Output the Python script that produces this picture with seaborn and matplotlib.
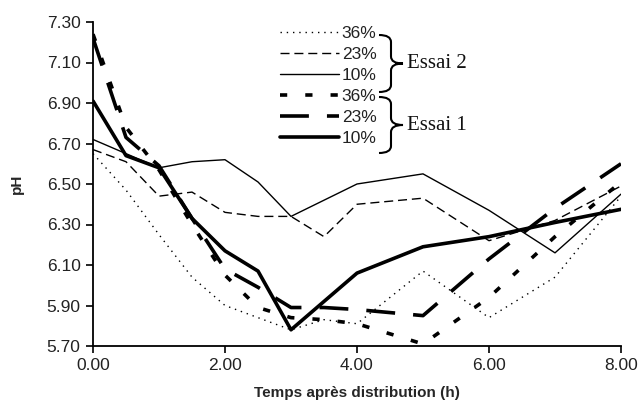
import numpy as np
import pandas as pd
import matplotlib
matplotlib.use("Agg")
import matplotlib.pyplot as plt
import seaborn as sns
from matplotlib.path import Path
from matplotlib.patches import PathPatch
import matplotlib.transforms as mtransforms

# temps après distribution (h)
temps = [0, 0.5, 1, 1.5, 2, 2.5, 3, 3.5, 4, 5, 6, 7, 8]

# Essai 2
e2_36 = [6.65, 6.47, 6.25, 6.04, 5.90, 5.84, 5.78, 5.83, 5.81, 6.07, 5.84, 6.04, 6.44]
e2_23 = [6.67, 6.61, 6.44, 6.46, 6.36, 6.34, 6.34, 6.24, 6.40, 6.43, 6.22, 6.32, 6.49]
e2_10 = [6.72, 6.65, 6.58, 6.61, 6.62, 6.51, 6.34, 6.42, 6.50, 6.55, 6.37, 6.16, 6.45]
# Essai 1
e1_36 = [7.24, 6.78, 6.57, 6.30, 6.05, 5.89, 5.84, 5.83, 5.81, 5.71, 5.94, 6.24, 6.51]
e1_23 = [7.22, 6.73, 6.59, 6.33, 6.08, 5.99, 5.89, 5.89, 5.88, 5.85, 6.13, 6.38, 6.60]
e1_10 = [6.91, 6.64, 6.58, 6.33, 6.17, 6.07, 5.78, 5.92, 6.06, 6.19, 6.24, 6.31, 6.375]

labels = ["36%", "23%", "10%", "36%", "23%", "10%"]
y_ticks = [5.70, 5.90, 6.10, 6.30, 6.50, 6.70, 6.90, 7.10, 7.30]
x_ticks = [0, 2, 4, 6, 8]

sns.set_theme(style="white")
plt.rcParams["font.family"] = ["Liberation Sans", "DejaVu Sans"]

W, H = 641, 403
fig = plt.figure(figsize=(W / 100, H / 100), dpi=100)
ax = fig.add_axes([93 / W, 1 - 346 / H, (621 - 93) / W, (346 - 22) / H])

# style de chaque courbe : (épaisseur, tirets)
styles = [
    (1.0, (0, (1, 3.5))),
    (1.0, (0, (6.5, 3.5))),
    (1.0, "-"),
    (2.6, (0, (2, 5))),
    (2.6, (0, (8, 5))),
    (2.6, "-"),
]
series = [e2_36, e2_23, e2_10, e1_36, e1_23, e1_10]

for vals, (lw, ls), lab in zip(series, styles, labels):
    df = pd.DataFrame({"t": temps, "pH": vals})
    sns.lineplot(data=df, x="t", y="pH", ax=ax, color="black", lw=lw,
                 linestyle=ls, label=lab)

ax.set_xlim(0, 8)
ax.set_ylim(5.70, 7.30)
ax.set_xticks(x_ticks)
ax.set_xticklabels([f"{v:.2f}" for v in x_ticks])
ax.set_yticks(y_ticks)
ax.set_yticklabels([f"{v:.2f}" for v in y_ticks])
ax.tick_params(axis="both", direction="out", length=5, width=1.2, color="black",
               labelsize=12.5, labelcolor="#222222", left=True, bottom=True, pad=4)
for side in ["top", "right"]:
    ax.spines[side].set_visible(False)
for side in ["left", "bottom"]:
    ax.spines[side].set_color("black")
    ax.spines[side].set_linewidth(1.3)

ax.set_xlabel("Temps après distribution (h)", fontsize=11, fontweight="bold", labelpad=9)
ax.set_ylabel("pH", fontsize=11, fontweight="bold", labelpad=16)

leg = ax.legend(loc="upper left", bbox_to_anchor=(280 / W, 1 - 26 / H),
                bbox_transform=fig.transFigure, frameon=False, fontsize=12.5,
                handlelength=3.4, handletextpad=0.15, labelspacing=0.34,
                borderpad=0, borderaxespad=0)
for t in leg.get_texts():
    t.set_color("#222222")

# accolades (coordonnées en pixels depuis le haut)
pix = mtransforms.Affine2D().scale(1 / W, -1 / H).translate(0, 1) + fig.transFigure


def accolade(top, bottom, x0=379, xm=391, xt=403, r=7):
    mid = (top + bottom) / 2
    verts = [(x0, top), (xm, top), (xm, top + r),
             (xm, mid - r), (xm, mid), (xt, mid),
             (xm, mid), (xm, mid + r),
             (xm, bottom - r), (xm, bottom), (x0, bottom)]
    codes = [Path.MOVETO, Path.CURVE3, Path.CURVE3,
             Path.LINETO, Path.CURVE3, Path.CURVE3,
             Path.CURVE3, Path.CURVE3,
             Path.LINETO, Path.CURVE3, Path.CURVE3]
    fig.add_artist(PathPatch(Path(verts, codes), transform=pix, fill=False,
                             lw=1.5, color="black"))
    return mid


m2 = accolade(35, 92)
m1 = accolade(97, 153)
fig.text(407 / W, 1 - m2 / H, "Essai 2", family="Liberation Serif", fontsize=15,
         va="center", ha="left", color="#111111")
fig.text(407 / W, 1 - m1 / H, "Essai 1", family="Liberation Serif", fontsize=15,
         va="center", ha="left", color="#111111")

fig.savefig("out.png", dpi=100)
